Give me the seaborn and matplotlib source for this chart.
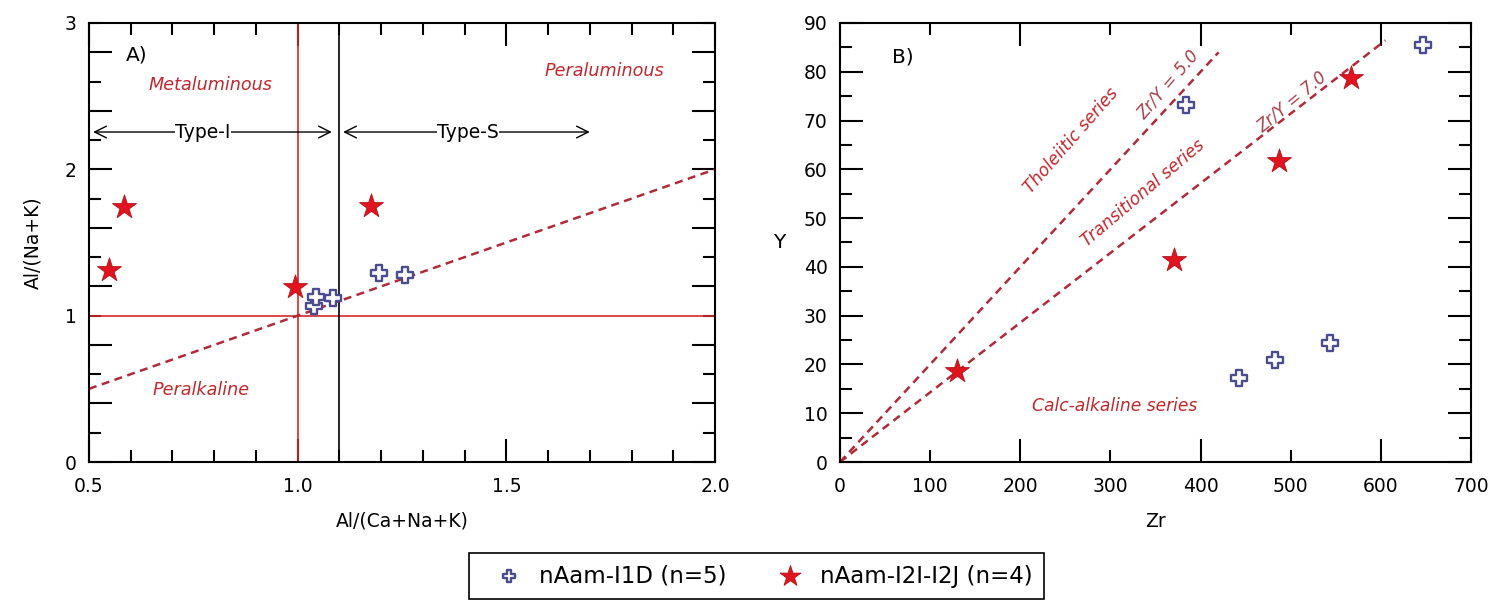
import numpy as np
import pandas as pd
import matplotlib
matplotlib.use("Agg")
import matplotlib.pyplot as plt
import matplotlib.ticker as mticker
import seaborn as sns

# ---------------- data ----------------
label_i1d = "nAam-I1D (n=5)"
label_i2 = "nAam-I2I-I2J (n=4)"

a_i1d_x = [1.040, 1.043, 1.085, 1.195, 1.256]
a_i1d_y = [1.065, 1.129, 1.118, 1.289, 1.278]
a_i2_x = [0.583, 0.549, 0.994, 1.175]
a_i2_y = [1.741, 1.312, 1.198, 1.750]

b_i1d_zr = [384, 443, 483, 544, 647]
b_i1d_y = [73.2, 17.3, 21.0, 24.3, 85.4]
b_i2_zr = [130, 370, 487, 567]
b_i2_y = [18.6, 41.4, 61.8, 78.7]

# reference lines
a_ratio_line_x = [0.5, 2.0]          # Al/(Na+K) = Al/(Ca+Na+K)
zr_y_ratios = [5.0, 7.0]
zr_line_end = [420, 605]

# ---------------- style ----------------
sns.set_theme(style="ticks")
plt.rcParams["font.family"] = ["DejaVu Sans"]
plt.rcParams["axes.linewidth"] = 1.5
plt.rcParams["text.color"] = "black"
plt.rcParams["axes.labelcolor"] = "black"

RED_TXT = "#c0282e"
DASH = "#b02a3a"
STAR_FC = "#e0141e"
STAR_EC = "#b3121b"
PLUS_EC = "#4b4b8f"
FS_TICK = 13.5
FS_LAB = 13.5
FS_TXT = 12.7

fig = plt.figure(figsize=(15, 6.15), dpi=100)
axA = fig.add_axes([89 / 1500, 1 - 462 / 615, (715 - 89) / 1500, (462 - 23) / 615])
axB = fig.add_axes([840 / 1500, 1 - 462 / 615, (1471 - 840) / 1500, (462 - 23) / 615])

df_a1 = pd.DataFrame({"x": a_i1d_x, "y": a_i1d_y})
df_a2 = pd.DataFrame({"x": a_i2_x, "y": a_i2_y})
df_b1 = pd.DataFrame({"x": b_i1d_zr, "y": b_i1d_y})
df_b2 = pd.DataFrame({"x": b_i2_zr, "y": b_i2_y})


def style_ticks(ax):
    ax.tick_params(which="both", direction="in", top=True, right=True,
                   labelsize=FS_TICK, colors="black", width=1.5)
    ax.tick_params(which="major", length=16.5)
    ax.tick_params(which="minor", length=8.5)
    ax.tick_params(axis="x", which="both", pad=11)
    ax.tick_params(axis="y", which="both", pad=9)
    for s in ax.spines.values():
        s.set_color("black")
        s.set_linewidth(1.5)


# ---------------- panel A ----------------
ax = axA
ax.set_xlim(0.5, 2.0)
ax.set_ylim(0, 3)
ax.axvline(1.0, color="#d42a2a", lw=1.2, zorder=1)
ax.axhline(1.0, color="#d42a2a", lw=1.2, zorder=1)
ax.axvline(1.1, color="black", lw=1.2, zorder=1)
ax.plot(a_ratio_line_x, a_ratio_line_x, color=DASH, lw=1.8,
        ls=(0, (3.2, 2.2)), zorder=2)

sns.scatterplot(data=df_a1, x="x", y="y", ax=ax, marker="P", s=140,
                facecolor="white", edgecolor=PLUS_EC, linewidth=1.7,
                zorder=4, label=label_i1d, legend=False)
sns.scatterplot(data=df_a2, x="x", y="y", ax=ax, marker="*", s=330,
                color=STAR_FC, edgecolor=STAR_EC, linewidth=0.6,
                zorder=4, label=label_i2, legend=False)

# arrows
ax.annotate("", xy=(0.51, 2.255), xytext=(1.082, 2.255),
            arrowprops=dict(arrowstyle="<->,head_length=0.7,head_width=0.35",
                            color="black", lw=1.0, shrinkA=0, shrinkB=0))
ax.annotate("", xy=(1.109, 2.255), xytext=(1.70, 2.255),
            arrowprops=dict(arrowstyle="<->,head_length=0.7,head_width=0.35",
                            color="black", lw=1.0, shrinkA=0, shrinkB=0))
ax.text(0.773, 2.255, "Type-I", ha="center", va="center", fontsize=FS_LAB,
        bbox=dict(facecolor="white", edgecolor="none", pad=0.2), zorder=5)
ax.text(1.409, 2.255, "Type-S", ha="center", va="center", fontsize=FS_LAB,
        bbox=dict(facecolor="white", edgecolor="none", pad=0.2), zorder=5)

ax.text(0.615, 2.78, "A)", ha="center", va="center", fontsize=14.5)
ax.text(0.790, 2.576, "Metaluminous", ha="center", va="center",
        fontsize=FS_TXT, style="italic", color=RED_TXT)
ax.text(1.735, 2.67, "Peraluminous", ha="center", va="center",
        fontsize=FS_TXT, style="italic", color=RED_TXT)
ax.text(0.769, 0.49, "Peralkaline", ha="center", va="center",
        fontsize=FS_TXT, style="italic", color=RED_TXT)

ax.xaxis.set_major_locator(mticker.FixedLocator([0.5, 1.0, 1.5, 2.0]))
ax.xaxis.set_minor_locator(mticker.FixedLocator(
    [0.6, 0.7, 0.8, 0.9, 1.1, 1.2, 1.3, 1.4, 1.6, 1.7, 1.8, 1.9]))
ax.xaxis.set_major_formatter(mticker.FormatStrFormatter("%.1f"))
ax.xaxis.set_minor_formatter(mticker.NullFormatter())

y_major_a = [0.0, 0.4, 0.8, 1.2, 1.6, 2.0, 2.4, 2.8]
y_minor_a = [0.2, 0.6, 1.0, 1.4, 1.8, 2.2, 2.6, 3.0]
ax.yaxis.set_major_locator(mticker.FixedLocator(y_major_a))
ax.yaxis.set_minor_locator(mticker.FixedLocator(y_minor_a))
lab_fmt = mticker.FuncFormatter(
    lambda v, p: f"{int(round(v))}" if abs(v - round(v)) < 1e-6 else "")
ax.yaxis.set_major_formatter(lab_fmt)
ax.yaxis.set_minor_formatter(lab_fmt)
style_ticks(ax)
ax.set_xlabel("Al/(Ca+Na+K)", fontsize=FS_LAB)
ax.set_ylabel("Al/(Na+K)", fontsize=FS_LAB)
ax.xaxis.set_label_coords(0.5, -0.113)
ax.yaxis.set_label_coords(-0.075, 0.5)

# ---------------- panel B ----------------
ax = axB
ax.set_xlim(0, 700)
ax.set_ylim(0, 90)
for r, xe in zip(zr_y_ratios, zr_line_end):
    ax.plot([0, xe], [0, xe / r], color=DASH, lw=1.8,
            ls=(0, (3.2, 2.2)), zorder=2)

sns.scatterplot(data=df_b1, x="x", y="y", ax=ax, marker="P", s=140,
                facecolor="white", edgecolor=PLUS_EC, linewidth=1.7,
                zorder=4, legend=False)
sns.scatterplot(data=df_b2, x="x", y="y", ax=ax, marker="*", s=330,
                color=STAR_FC, edgecolor=STAR_EC, linewidth=0.6,
                zorder=4, legend=False)


def disp_angle(ax, r):
    p0 = ax.transData.transform((0, 0))
    p1 = ax.transData.transform((100, 100 / r))
    return np.degrees(np.arctan2(p1[1] - p0[1], p1[0] - p0[0]))


ang5 = disp_angle(ax, zr_y_ratios[0])
ang7 = disp_angle(ax, zr_y_ratios[1])
ax.text(364, 77.3, "Zr/Y = 5.0", ha="center", va="center", rotation=ang5 + 2,
        rotation_mode="anchor", fontsize=12, style="italic", color="#a8404a")
ax.text(501, 73.8, "Zr/Y = 7.0", ha="center", va="center", rotation=ang7 + 2,
        rotation_mode="anchor", fontsize=12, style="italic", color="#a8404a")
ax.text(257, 65.9, "Tholeiitic series", ha="center", va="center",
        rotation=ang5 + 1.5, rotation_mode="anchor", fontsize=12.3,
        style="italic", color=RED_TXT)
ax.text(336, 55.1, "Transitional series", ha="center", va="center",
        rotation=ang7 + 2.5, rotation_mode="anchor", fontsize=12.3,
        style="italic", color=RED_TXT)
ax.text(305, 11.5, "Calc-alkaline series", ha="center", va="center",
        fontsize=12.3, style="italic", color=RED_TXT)
ax.text(70, 83.0, "B)", ha="center", va="center", fontsize=14.5)

ax.xaxis.set_major_locator(mticker.FixedLocator([0, 200, 400, 600]))
ax.xaxis.set_minor_locator(mticker.FixedLocator([100, 300, 500, 700]))
int_fmt = mticker.FuncFormatter(lambda v, p: f"{int(round(v))}")
ax.xaxis.set_major_formatter(int_fmt)
ax.xaxis.set_minor_formatter(int_fmt)
ax.yaxis.set_major_locator(mticker.MultipleLocator(10))
ax.yaxis.set_minor_locator(mticker.MultipleLocator(5))
ax.yaxis.set_major_formatter(int_fmt)
style_ticks(ax)
ax.set_xlabel("Zr", fontsize=FS_LAB)
ax.set_ylabel("Y", fontsize=FS_LAB + 1, rotation=0, va="center", ha="right")
ax.xaxis.set_label_coords(0.5, -0.113)
ax.yaxis.set_label_coords(-0.086, 0.5)

# ---------------- legend ----------------
handles, labels = axA.get_legend_handles_labels()
leg = fig.legend(handles, labels, loc="center", bbox_to_anchor=(0.5043, 0.0634),
                 ncol=2, frameon=True, fancybox=False, fontsize=16.5,
                 edgecolor="black", framealpha=1, borderpad=0.5,
                 handletextpad=0.05, columnspacing=1.5, borderaxespad=0,
                 handlelength=2.5)
leg.get_frame().set_linewidth(1.2)
hs = leg.legend_handles
hs[0].set_sizes([70])
hs[1].set_sizes([250])

fig.savefig("out.png", dpi=100)
